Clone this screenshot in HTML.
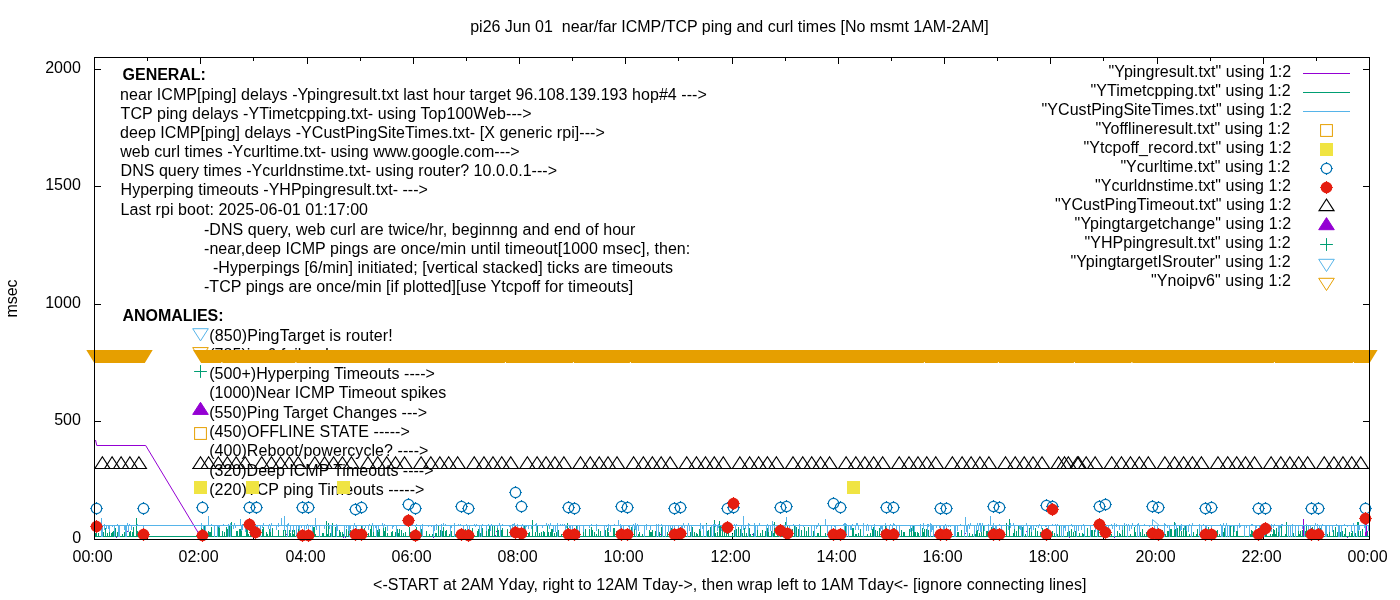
<!DOCTYPE html><html><head><meta charset="utf-8"><title>plot</title><style>html,body{margin:0;padding:0;background:#fff}svg{display:block;will-change:transform}text{font-family:"Liberation Sans",sans-serif;font-size:16px;fill:#000}</style></head><body>
<svg width="1400" height="600" viewBox="0 0 1400 600">
<rect width="1400" height="600" fill="#fff"/>
<path d="M94.5 539.5v-6.5M94.5 57.5v6.5M147.5 539.5v-3.5M147.5 57.5v3.5M200.5 539.5v-6.5M200.5 57.5v6.5M253.5 539.5v-3.5M253.5 57.5v3.5M307.5 539.5v-6.5M307.5 57.5v6.5M360.5 539.5v-3.5M360.5 57.5v3.5M413.5 539.5v-6.5M413.5 57.5v6.5M466.5 539.5v-3.5M466.5 57.5v3.5M519.5 539.5v-6.5M519.5 57.5v6.5M572.5 539.5v-3.5M572.5 57.5v3.5M625.5 539.5v-6.5M625.5 57.5v6.5M678.5 539.5v-3.5M678.5 57.5v3.5M732.5 539.5v-6.5M732.5 57.5v6.5M785.5 539.5v-3.5M785.5 57.5v3.5M838.5 539.5v-6.5M838.5 57.5v6.5M891.5 539.5v-3.5M891.5 57.5v3.5M944.5 539.5v-6.5M944.5 57.5v6.5M997.5 539.5v-3.5M997.5 57.5v3.5M1050.5 539.5v-6.5M1050.5 57.5v6.5M1103.5 539.5v-3.5M1103.5 57.5v3.5M1157.5 539.5v-6.5M1157.5 57.5v6.5M1210.5 539.5v-3.5M1210.5 57.5v3.5M1263.5 539.5v-6.5M1263.5 57.5v6.5M1316.5 539.5v-3.5M1316.5 57.5v3.5M1369.5 539.5v-6.5M1369.5 57.5v6.5M94.5 539.5h6.5M1369.5 539.5h-6.5M94.5 421.5h6.5M1369.5 421.5h-6.5M94.5 304.5h6.5M1369.5 304.5h-6.5M94.5 186.5h6.5M1369.5 186.5h-6.5M94.5 69.5h6.5M1369.5 69.5h-6.5" stroke="#000" stroke-width="1" fill="none"/>
<text x="470.20" y="32" textLength="518.61" lengthAdjust="spacing" xml:space="preserve">pi26 Jun 01  near/far ICMP/TCP ping and curl times [No msmt 1AM-2AM]</text>
<text x="373.00" y="589.6" textLength="713.45" lengthAdjust="spacing" xml:space="preserve">&lt;-START at 2AM Yday, right to 12AM Tday-&gt;, then wrap left to 1AM Tday&lt;- [ignore connecting lines]</text>
<text x="122.60" y="79.8" textLength="83.25" lengthAdjust="spacing" font-weight="bold" xml:space="preserve">GENERAL:</text>
<text x="120.00" y="99.6" textLength="586.84" lengthAdjust="spacing" xml:space="preserve">near ICMP[ping] delays -Ypingresult.txt last hour target 96.108.139.193 hop#4 ---&gt;</text>
<text x="120.60" y="118.6" textLength="410.95" lengthAdjust="spacing" xml:space="preserve">TCP ping delays -YTimetcpping.txt- using Top100Web---&gt;</text>
<text x="120.00" y="137.6" textLength="484.74" lengthAdjust="spacing" xml:space="preserve">deep ICMP[ping] delays -YCustPingSiteTimes.txt- [X generic rpi]---&gt;</text>
<text x="120.30" y="156.6" textLength="399.38" lengthAdjust="spacing" xml:space="preserve">web curl times -Ycurltime.txt- using www.google.com---&gt;</text>
<text x="120.60" y="175.8" textLength="436.38" lengthAdjust="spacing" xml:space="preserve">DNS query times -Ycurldnstime.txt- using router? 10.0.0.1---&gt;</text>
<text x="120.60" y="194.8" textLength="307.23" lengthAdjust="spacing" xml:space="preserve">Hyperping timeouts -YHPpingresult.txt- ---&gt;</text>
<text x="120.60" y="214.7" textLength="247.43" lengthAdjust="spacing" xml:space="preserve">Last rpi boot: 2025-06-01 01:17:00</text>
<text x="204.00" y="234.6" textLength="431.40" lengthAdjust="spacing" xml:space="preserve">-DNS query, web curl are twice/hr, beginnng and end of hour</text>
<text x="204.00" y="253.5" textLength="486.26" lengthAdjust="spacing" xml:space="preserve">-near,deep ICMP pings are once/min until timeout[1000 msec], then:</text>
<text x="212.90" y="272.5" textLength="460.01" lengthAdjust="spacing" xml:space="preserve">-Hyperpings [6/min] initiated; [vertical stacked] ticks are timeouts</text>
<text x="204.00" y="291.5" textLength="429.30" lengthAdjust="spacing" xml:space="preserve">-TCP pings are once/min [if plotted][use Ytcpoff for timeouts]</text>
<text x="122.60" y="321" textLength="100.92" lengthAdjust="spacing" font-weight="bold" xml:space="preserve">ANOMALIES:</text>
<text x="209.20" y="341.3" textLength="183.47" lengthAdjust="spacing" xml:space="preserve">(850)PingTarget is router!</text>
<text x="209.20" y="360.4" textLength="119.89" lengthAdjust="spacing" xml:space="preserve">(785)ipv6 failure!</text>
<text x="209.20" y="379" textLength="225.71" lengthAdjust="spacing" xml:space="preserve">(500+)Hyperping Timeouts ----&gt;</text>
<text x="209.20" y="398.3" textLength="236.95" lengthAdjust="spacing" xml:space="preserve">(1000)Near ICMP Timeout spikes</text>
<text x="209.20" y="417.8" textLength="217.88" lengthAdjust="spacing" xml:space="preserve">(550)Ping Target Changes ---&gt;</text>
<text x="209.20" y="437" textLength="200.60" lengthAdjust="spacing" xml:space="preserve">(450)OFFLINE STATE -----&gt;</text>
<text x="209.20" y="456.4" textLength="219.23" lengthAdjust="spacing" xml:space="preserve">(400)Reboot/powercycle? ----&gt;</text>
<text x="209.20" y="475.8" textLength="224.32" lengthAdjust="spacing" xml:space="preserve">(320)Deep ICMP Timeouts ----&gt;</text>
<text x="209.20" y="495.4" textLength="215.26" lengthAdjust="spacing" xml:space="preserve">(220)TCP ping Timeouts -----&gt;</text>
<text x="1108.60" y="77" textLength="182.66" lengthAdjust="spacing" xml:space="preserve">&quot;Ypingresult.txt&quot; using 1:2</text>
<text x="1090.60" y="96" textLength="200.02" lengthAdjust="spacing" xml:space="preserve">&quot;YTimetcpping.txt&quot; using 1:2</text>
<text x="1041.60" y="115" textLength="249.92" lengthAdjust="spacing" xml:space="preserve">&quot;YCustPingSiteTimes.txt&quot; using 1:2</text>
<text x="1095.40" y="134" textLength="194.83" lengthAdjust="spacing" xml:space="preserve">&quot;Yofflineresult.txt&quot; using 1:2</text>
<text x="1083.40" y="153" textLength="207.76" lengthAdjust="spacing" xml:space="preserve">&quot;Ytcpoff_record.txt&quot; using 1:2</text>
<text x="1120.40" y="172" textLength="169.78" lengthAdjust="spacing" xml:space="preserve">&quot;Ycurltime.txt&quot; using 1:2</text>
<text x="1095.00" y="191" textLength="195.87" lengthAdjust="spacing" xml:space="preserve">&quot;Ycurldnstime.txt&quot; using 1:2</text>
<text x="1055.00" y="210" textLength="236.19" lengthAdjust="spacing" xml:space="preserve">&quot;YCustPingTimeout.txt&quot; using 1:2</text>
<text x="1074.60" y="229" textLength="216.61" lengthAdjust="spacing" xml:space="preserve">&quot;Ypingtargetchange&quot; using 1:2</text>
<text x="1084.40" y="248" textLength="206.27" lengthAdjust="spacing" xml:space="preserve">&quot;YHPpingresult.txt&quot; using 1:2</text>
<text x="1070.60" y="267" textLength="220.02" lengthAdjust="spacing" xml:space="preserve">&quot;YpingtargetISrouter&quot; using 1:2</text>
<text x="1151.00" y="286" textLength="139.88" lengthAdjust="spacing" xml:space="preserve">&quot;Ynoipv6&quot; using 1:2</text>
<text x="72.20" y="542.8">0</text>
<text x="54.20" y="424.8">500</text>
<text x="45.20" y="307.8">1000</text>
<text x="45.20" y="189.8">1500</text>
<text x="45.20" y="72.8">2000</text>
<text x="92.6" y="562" text-anchor="middle">00:00</text>
<text x="198.6" y="562" text-anchor="middle">02:00</text>
<text x="305.6" y="562" text-anchor="middle">04:00</text>
<text x="411.6" y="562" text-anchor="middle">06:00</text>
<text x="517.6" y="562" text-anchor="middle">08:00</text>
<text x="623.6" y="562" text-anchor="middle">10:00</text>
<text x="730.6" y="562" text-anchor="middle">12:00</text>
<text x="836.6" y="562" text-anchor="middle">14:00</text>
<text x="942.6" y="562" text-anchor="middle">16:00</text>
<text x="1048.6" y="562" text-anchor="middle">18:00</text>
<text x="1155.6" y="562" text-anchor="middle">20:00</text>
<text x="1261.6" y="562" text-anchor="middle">22:00</text>
<text x="1367.6" y="562" text-anchor="middle">00:00</text>
<text transform="translate(17,298.5) rotate(-90)" text-anchor="middle">msec</text>
<path d="M95.5 440L96.8 445.5L145.7 445.5L200.8 537" stroke="#9400D3" stroke-width="1" fill="none" stroke-linejoin="round"/>
<path d="M116 537.5h1M127 531.5h1M144 533.5h1M210 535.5h1M286 534.5h1M305 537.5h1M343 537.5h1M345 537.5h1M433 537.5h1M460 531.5h1M495 535.5h1M496 531.5h1M521 533.5h1M523 534.5h1M567 533.5h1M579 537.5h1M660 534.5h1M692 533.5h1M752 534.5h1M836 537.5h1M840 535.5h1M934 535.5h1M965 533.5h1M989 535.5h1M1026 531.5h1M1069 537.5h1M1101 533.5h1M1114 537.5h1M1183 533.5h1M1185 533.5h1M1193 534.5h1M1263 535.5h1M1266 535.5h1M1273 534.5h1M1300 535.5h1M1305 531.5h1M1347 537.5h1M1303.5 537V519M1365.5 537V531M1366.5 537V523.5M1367.5 537V531" stroke="#9400D3" stroke-width="1" fill="none"/>
<path d="M94.5 536.5H1369M95.5 537V533M96.5 537V533M98.5 537V533M101.5 537V533M102.5 537V529M103.5 537V532M105.5 537V528M107.5 537V533M109.5 537V528M111.5 537V533M112.5 537V532M113.5 537V531M115.5 537V528M117.5 537V532M118.5 537V531M119.5 537V532M122.5 537V534M124.5 537V532M126.5 537V534M129.5 537V532M130.5 537V531M132.5 537V532M133.5 537V527M137.5 537V531M139.5 537V532M144.5 537V529M201.5 537V526M203.5 537V534M204.5 537V526M205.5 537V530M208.5 537V531M209.5 537V532M210.5 537V532M211.5 537V527M217.5 537V534M218.5 537V527M219.5 537V527M222.5 537V531M224.5 537V532M226.5 537V527M227.5 537V529M229.5 537V526M230.5 537V533M231.5 537V522M236.5 537V531M237.5 537V531M239.5 537V529M240.5 537V529M241.5 537V527M246.5 537V528M247.5 537V528M248.5 537V534M250.5 537V527M251.5 537V530M257.5 537V534M260.5 537V526M262.5 537V529M263.5 537V527M266.5 537V532M267.5 537V534M269.5 537V529M270.5 537V532M272.5 537V528M278.5 537V530M283.5 537V530M285.5 537V530M289.5 537V530M290.5 537V533M292.5 537V530M293.5 537V534M294.5 537V530M296.5 537V532M298.5 537V529M299.5 537V527M301.5 537V534M304.5 537V532M305.5 537V531M306.5 537V534M307.5 537V532M308.5 537V530M310.5 537V531M311.5 537V533M313.5 537V527M314.5 537V527M315.5 537V534M319.5 537V530M322.5 537V533M323.5 537V533M326.5 537V521M327.5 537V534M328.5 537V523M330.5 537V533M332.5 537V523M335.5 537V527M339.5 537V530M340.5 537V532M342.5 537V532M343.5 537V534M346.5 537V529M348.5 537V528M349.5 537V531M350.5 537V530M354.5 537V532M355.5 537V534M356.5 537V529M358.5 537V529M359.5 537V532M361.5 537V526M363.5 537V534M364.5 537V528M366.5 537V533M368.5 537V533M370.5 537V529M371.5 537V526M373.5 537V528M377.5 537V530M378.5 537V528M379.5 537V529M383.5 537V528M384.5 537V531M385.5 537V527M387.5 537V533M391.5 537V532M392.5 537V531M395.5 537V532M397.5 537V529M398.5 537V533M399.5 537V529M401.5 537V530M403.5 537V533M405.5 537V532M409.5 537V527M410.5 537V532M411.5 537V534M414.5 537V534M416.5 537V527M421.5 537V529M422.5 537V527M426.5 537V531M429.5 537V534M432.5 537V534M433.5 537V530M435.5 537V533M436.5 537V533M438.5 537V526M440.5 537V530M442.5 537V531M443.5 537V527M445.5 537V531M446.5 537V530M449.5 537V534M451.5 537V531M454.5 537V530M455.5 537V534M458.5 537V531M460.5 537V532M461.5 537V532M462.5 537V530M465.5 537V529M470.5 537V530M471.5 537V532M472.5 537V528M477.5 537V531M478.5 537V529M480.5 537V533M482.5 537V528M486.5 537V530M488.5 537V529M489.5 537V526M492.5 537V526M494.5 537V525M497.5 537V528M498.5 537V530M501.5 537V530M502.5 537V528M507.5 537V529M510.5 537V534M511.5 537V534M513.5 537V530M516.5 537V530M518.5 537V530M520.5 537V529M523.5 537V526M524.5 537V526M528.5 537V533M529.5 537V532M532.5 537V520M535.5 537V532M537.5 537V526M539.5 537V533M541.5 537V532M543.5 537V531M544.5 537V532M547.5 537V526M548.5 537V532M550.5 537V532M551.5 537V529M552.5 537V529M554.5 537V533M556.5 537V532M557.5 537V528M558.5 537V530M561.5 537V534M564.5 537V533M567.5 537V523M568.5 537V534M571.5 537V534M574.5 537V530M575.5 537V532M576.5 537V526M577.5 537V529M579.5 537V528M583.5 537V526M585.5 537V529M589.5 537V529M591.5 537V527M592.5 537V530M594.5 537V532M596.5 537V534M598.5 537V529M600.5 537V531M605.5 537V530M607.5 537V528M608.5 537V532M613.5 537V528M614.5 537V528M616.5 537V531M619.5 537V534M621.5 537V528M622.5 537V529M623.5 537V534M624.5 537V534M631.5 537V527M632.5 537V531M634.5 537V527M636.5 537V527M638.5 537V534M639.5 537V532M642.5 537V534M649.5 537V530M650.5 537V532M651.5 537V532M652.5 537V530M655.5 537V531M659.5 537V532M661.5 537V527M665.5 537V534M667.5 537V532M669.5 537V533M671.5 537V528M674.5 537V529M675.5 537V531M677.5 537V533M679.5 537V529M681.5 537V527M683.5 537V531M685.5 537V532M687.5 537V530M690.5 537V532M692.5 537V527M694.5 537V532M696.5 537V533M697.5 537V534M699.5 537V529M700.5 537V531M706.5 537V523M707.5 537V531M708.5 537V530M710.5 537V527M713.5 537V533M715.5 537V533M717.5 537V532M719.5 537V521M720.5 537V526M722.5 537V529M724.5 537V528M726.5 537V531M728.5 537V526M732.5 537V534M734.5 537V530M736.5 537V529M738.5 537V527M740.5 537V529M742.5 537V533M744.5 537V528M746.5 537V533M749.5 537V528M750.5 537V534M753.5 537V533M754.5 537V534M755.5 537V530M757.5 537V527M760.5 537V533M762.5 537V530M765.5 537V531M767.5 537V528M768.5 537V530M771.5 537V531M773.5 537V533M774.5 537V522M777.5 537V531M780.5 537V528M781.5 537V531M782.5 537V530M785.5 537V522M787.5 537V525M792.5 537V529M794.5 537V526M795.5 537V528M796.5 537V527M798.5 537V529M801.5 537V530M804.5 537V527M806.5 537V531M808.5 537V527M813.5 537V531M814.5 537V531M817.5 537V533M818.5 537V533M820.5 537V526M825.5 537V533M827.5 537V533M835.5 537V528M837.5 537V534M842.5 537V533M843.5 537V532M845.5 537V526M852.5 537V528M853.5 537V528M855.5 537V534M856.5 537V534M858.5 537V533M860.5 537V529M863.5 537V526M867.5 537V534M870.5 537V533M872.5 537V529M873.5 537V527M875.5 537V530M877.5 537V531M879.5 537V528M881.5 537V531M883.5 537V534M885.5 537V526M887.5 537V531M894.5 537V528M896.5 537V528M897.5 537V534M899.5 537V526M901.5 537V530M903.5 537V532M904.5 537V532M909.5 537V529M911.5 537V528M913.5 537V526M914.5 537V526M915.5 537V532M917.5 537V532M918.5 537V533M920.5 537V531M922.5 537V528M923.5 537V532M924.5 537V529M926.5 537V529M928.5 537V530M933.5 537V527M935.5 537V534M936.5 537V534M939.5 537V530M942.5 537V532M943.5 537V529M945.5 537V533M950.5 537V529M954.5 537V532M955.5 537V531M957.5 537V532M958.5 537V532M961.5 537V530M964.5 537V532M967.5 537V532M969.5 537V533M972.5 537V534M975.5 537V534M976.5 537V527M977.5 537V530M979.5 537V533M981.5 537V526M983.5 537V526M986.5 537V531M987.5 537V531M989.5 537V534M991.5 537V527M992.5 537V534M994.5 537V528M995.5 537V528M997.5 537V529M1001.5 537V532M1003.5 537V533M1006.5 537V523M1009.5 537V534M1013.5 537V533M1014.5 537V528M1016.5 537V531M1018.5 537V526M1022.5 537V527M1025.5 537V534M1027.5 537V534M1029.5 537V528M1031.5 537V525M1035.5 537V528M1037.5 537V531M1040.5 537V532M1042.5 537V528M1045.5 537V534M1047.5 537V528M1048.5 537V528M1050.5 537V532M1052.5 537V531M1054.5 537V533M1057.5 537V534M1059.5 537V526M1067.5 537V532M1069.5 537V531M1071.5 537V529M1073.5 537V532M1075.5 537V531M1076.5 537V531M1079.5 537V533M1082.5 537V533M1083.5 537V534M1087.5 537V528M1090.5 537V526M1091.5 537V530M1092.5 537V530M1094.5 537V530M1097.5 537V528M1098.5 537V521M1101.5 537V526M1103.5 537V534M1104.5 537V532M1106.5 537V533M1107.5 537V533M1109.5 537V533M1111.5 537V534M1114.5 537V530M1117.5 537V531M1119.5 537V533M1120.5 537V534M1122.5 537V529M1124.5 537V525M1127.5 537V531M1130.5 537V534M1134.5 537V527M1135.5 537V532M1137.5 537V533M1140.5 537V532M1142.5 537V529M1144.5 537V534M1146.5 537V532M1149.5 537V529M1150.5 537V531M1152.5 537V534M1154.5 537V529M1157.5 537V530M1159.5 537V532M1160.5 537V529M1162.5 537V530M1165.5 537V534M1167.5 537V531M1168.5 537V531M1170.5 537V529M1171.5 537V529M1174.5 537V522M1175.5 537V529M1177.5 537V528M1179.5 537V526M1181.5 537V531M1183.5 537V528M1185.5 537V526M1186.5 537V526M1189.5 537V534M1191.5 537V531M1193.5 537V532M1196.5 537V534M1197.5 537V529M1199.5 537V526M1201.5 537V533M1204.5 537V532M1208.5 537V527M1214.5 537V532M1216.5 537V531M1217.5 537V530M1219.5 537V534M1221.5 537V529M1223.5 537V532M1224.5 537V528M1227.5 537V533M1229.5 537V525M1230.5 537V526M1233.5 537V526M1236.5 537V531M1237.5 537V528M1249.5 537V533M1250.5 537V534M1251.5 537V530M1252.5 537V531M1255.5 537V530M1257.5 537V534M1259.5 537V531M1260.5 537V532M1261.5 537V532M1263.5 537V528M1265.5 537V526M1266.5 537V530M1270.5 537V534M1272.5 537V534M1273.5 537V529M1274.5 537V530M1275.5 537V534M1276.5 537V528M1278.5 537V530M1279.5 537V534M1281.5 537V526M1285.5 537V534M1286.5 537V522M1288.5 537V529M1290.5 537V527M1293.5 537V533M1295.5 537V533M1298.5 537V531M1299.5 537V534M1300.5 537V531M1302.5 537V530M1305.5 537V531M1306.5 537V526M1308.5 537V528M1310.5 537V533M1312.5 537V527M1313.5 537V534M1314.5 537V525M1316.5 537V534M1318.5 537V531M1319.5 537V531M1320.5 537V528M1321.5 537V528M1322.5 537V534M1325.5 537V534M1327.5 537V534M1329.5 537V531M1333.5 537V530M1335.5 537V527M1337.5 537V532M1338.5 537V531M1340.5 537V532M1342.5 537V531M1344.5 537V534M1345.5 537V528M1349.5 537V532M1351.5 537V533M1352.5 537V531M1354.5 537V531M1355.5 537V533M1357.5 537V522M1358.5 537V522M1360.5 537V531M1362.5 537V529M1367.5 537V532" stroke="#009E73" stroke-width="1" fill="none"/>
<path d="M136.5 537V518M1009.5 537V519M714.5 537V520" stroke="#009E73" stroke-width="1" fill="none"/>
<path d="M94.5 525.5H1369M95.5 525V528M99.5 525V529M101.5 525V537M101.5 526V518M102.5 525V537M104.5 525V530M104.5 526V524M106.5 525V529M108.5 525V529M109.5 525V532M112.5 525V527M114.5 525V537M117.5 526V524M118.5 525V537M119.5 525V537M124.5 525V530M125.5 525V537M126.5 525V537M127.5 526V523M128.5 525V532M129.5 526V524M131.5 525V530M137.5 526V524M143.5 525V537M201.5 525V528M201.5 526V523M203.5 525V531M205.5 525V537M208.5 526V516M211.5 526V524M214.5 525V537M217.5 525V537M218.5 525V527M219.5 525V528M223.5 526V524M228.5 525V537M228.5 526V524M230.5 525V537M230.5 526V523M233.5 525V529M234.5 526V523M235.5 525V528M240.5 526V519M241.5 525V531M242.5 525V530M242.5 526V524M245.5 525V532M247.5 525V530M249.5 526V518M251.5 525V531M252.5 525V531M254.5 526V524M256.5 525V537M257.5 525V537M260.5 525V537M262.5 525V528M263.5 526V523M268.5 525V529M269.5 526V524M270.5 525V532M271.5 526V523M276.5 525V530M278.5 525V527M278.5 526V523M281.5 526V518M284.5 525V531M284.5 526V523M286.5 525V527M287.5 525V537M287.5 526V524M288.5 526V523M290.5 525V532M293.5 525V532M296.5 525V537M298.5 525V529M299.5 525V537M301.5 525V528M304.5 525V537M306.5 525V529M307.5 526V524M308.5 525V537M310.5 525V527M312.5 525V537M315.5 525V527M315.5 526V518M316.5 525V530M319.5 525V537M324.5 525V529M329.5 525V529M331.5 525V537M336.5 525V537M336.5 526V524M337.5 525V531M344.5 525V537M346.5 525V528M348.5 525V531M349.5 525V537M350.5 525V529M353.5 525V531M354.5 526V523M355.5 525V527M356.5 525V537M362.5 525V529M365.5 525V528M368.5 525V530M369.5 526V524M372.5 526V523M373.5 525V532M375.5 525V528M376.5 525V537M378.5 525V532M382.5 526V523M383.5 525V528M384.5 526V524M387.5 525V531M392.5 525V529M393.5 525V527M396.5 525V537M405.5 526V524M412.5 526V524M415.5 525V527M416.5 526V524M420.5 525V537M422.5 525V537M422.5 526V524M428.5 525V527M431.5 525V527M433.5 525V537M434.5 525V531M436.5 525V530M436.5 526V524M441.5 525V537M441.5 526V524M443.5 526V523M445.5 526V524M450.5 525V537M451.5 525V528M454.5 525V537M454.5 526V523M458.5 526V524M460.5 526V524M463.5 525V532M466.5 526V524M467.5 525V532M469.5 525V531M474.5 526V524M475.5 525V527M476.5 526V524M479.5 525V537M481.5 525V537M482.5 526V524M486.5 525V531M488.5 526V524M490.5 525V531M491.5 526V524M497.5 525V528M499.5 526V523M500.5 525V537M502.5 526V524M509.5 525V527M510.5 525V537M512.5 525V530M512.5 526V524M513.5 526V524M514.5 525V537M514.5 526V523M517.5 525V527M517.5 526V524M521.5 525V528M522.5 526V524M523.5 525V537M525.5 525V537M526.5 525V527M528.5 525V529M531.5 525V529M535.5 526V524M536.5 525V532M536.5 526V523M542.5 525V528M546.5 526V523M548.5 526V524M549.5 525V529M550.5 526V523M553.5 525V532M555.5 525V532M557.5 525V537M557.5 526V523M560.5 526V524M562.5 526V524M564.5 526V524M565.5 525V537M566.5 525V528M569.5 525V528M570.5 525V529M572.5 525V537M577.5 525V537M579.5 525V531M583.5 525V532M589.5 525V528M591.5 526V524M596.5 525V531M596.5 526V524M604.5 525V537M606.5 525V527M608.5 525V531M608.5 526V524M610.5 525V532M614.5 526V524M618.5 526V520M620.5 525V537M620.5 526V524M621.5 525V531M623.5 525V537M628.5 525V527M629.5 525V529M632.5 525V537M633.5 526V524M634.5 525V529M635.5 525V530M635.5 526V523M636.5 525V537M637.5 526V524M638.5 525V531M644.5 525V537M646.5 525V530M646.5 526V524M650.5 525V530M656.5 525V537M656.5 526V524M658.5 525V537M658.5 526V524M661.5 526V524M662.5 525V537M665.5 525V537M668.5 525V532M670.5 525V537M672.5 525V532M674.5 525V532M678.5 525V531M681.5 525V529M682.5 525V537M683.5 526V523M684.5 525V528M687.5 525V537M688.5 526V523M689.5 525V531M691.5 525V537M700.5 525V531M700.5 526V523M702.5 525V529M703.5 525V537M706.5 525V537M706.5 526V524M711.5 525V537M713.5 525V537M713.5 526V524M714.5 526V524M715.5 525V527M715.5 526V524M717.5 525V531M718.5 525V528M718.5 526V524M721.5 525V531M723.5 525V527M723.5 526V524M729.5 525V529M731.5 525V531M734.5 526V524M735.5 525V537M736.5 526V524M741.5 525V537M743.5 525V530M743.5 526V516M745.5 525V529M748.5 525V537M748.5 526V523M749.5 526V524M754.5 525V537M754.5 526V523M755.5 525V537M757.5 525V530M759.5 526V523M766.5 525V537M767.5 526V524M768.5 525V532M770.5 525V531M772.5 525V537M772.5 526V521M773.5 526V524M774.5 525V528M777.5 525V531M779.5 525V537M785.5 525V531M786.5 526V517M789.5 525V528M793.5 526V524M795.5 525V537M799.5 525V537M799.5 526V524M803.5 525V527M811.5 525V537M814.5 525V537M816.5 525V529M817.5 525V527M818.5 526V523M825.5 526V519M827.5 525V537M831.5 525V530M834.5 525V527M835.5 525V537M843.5 526V524M844.5 525V532M844.5 526V523M845.5 526V523M846.5 525V537M846.5 526V524M848.5 525V537M850.5 525V530M851.5 525V530M852.5 526V524M855.5 525V530M856.5 526V523M857.5 526V523M858.5 525V530M863.5 525V537M863.5 526V523M866.5 525V531M867.5 526V524M868.5 525V531M871.5 525V530M874.5 525V537M874.5 526V524M880.5 525V531M881.5 525V529M882.5 525V537M885.5 526V523M886.5 525V530M889.5 525V537M890.5 526V524M892.5 525V537M893.5 526V523M894.5 526V524M896.5 525V530M899.5 525V537M910.5 525V532M912.5 525V531M914.5 525V532M920.5 525V537M920.5 526V524M923.5 525V529M923.5 526V523M927.5 525V537M927.5 526V524M928.5 525V527M928.5 526V524M930.5 525V537M930.5 526V523M931.5 525V532M931.5 526V524M932.5 525V530M933.5 525V537M936.5 525V528M939.5 525V528M940.5 525V537M943.5 525V532M944.5 525V531M945.5 526V524M946.5 525V529M948.5 525V527M950.5 525V527M954.5 525V537M955.5 525V537M957.5 525V531M960.5 526V524M964.5 525V537M965.5 526V517M966.5 525V532M967.5 525V537M968.5 526V524M969.5 525V529M970.5 526V523M974.5 525V537M976.5 525V531M977.5 526V523M978.5 525V531M979.5 526V523M980.5 525V532M980.5 526V523M981.5 525V532M982.5 526V523M984.5 525V531M988.5 525V537M988.5 526V524M990.5 526V516M992.5 525V537M993.5 525V537M993.5 526V523M995.5 525V537M996.5 525V531M999.5 526V524M1001.5 525V530M1008.5 525V530M1010.5 525V528M1010.5 526V523M1013.5 526V523M1014.5 525V529M1019.5 525V529M1020.5 525V530M1021.5 525V537M1023.5 525V537M1026.5 526V523M1027.5 525V537M1030.5 525V529M1031.5 525V532M1033.5 525V530M1036.5 525V527M1038.5 525V528M1039.5 526V524M1041.5 525V529M1045.5 525V527M1046.5 525V527M1048.5 525V537M1052.5 526V524M1055.5 526V524M1056.5 525V537M1057.5 526V524M1061.5 525V537M1063.5 525V537M1064.5 525V528M1065.5 525V531M1068.5 525V537M1071.5 526V524M1072.5 525V527M1074.5 525V532M1076.5 525V537M1078.5 525V531M1081.5 525V530M1083.5 526V524M1084.5 525V537M1090.5 525V537M1095.5 525V532M1097.5 525V537M1103.5 525V529M1104.5 525V529M1106.5 525V527M1108.5 525V537M1111.5 526V524M1112.5 525V529M1114.5 525V537M1114.5 526V523M1116.5 525V527M1116.5 526V524M1119.5 525V530M1122.5 525V530M1124.5 526V523M1126.5 526V524M1127.5 525V537M1128.5 526V524M1129.5 525V531M1131.5 525V529M1132.5 526V523M1135.5 525V527M1137.5 525V537M1137.5 526V524M1138.5 526V523M1139.5 525V537M1144.5 526V524M1149.5 525V527M1154.5 525V532M1157.5 525V537M1164.5 525V537M1164.5 526V523M1165.5 526V524M1167.5 525V528M1169.5 525V537M1174.5 525V530M1175.5 526V523M1176.5 525V537M1180.5 525V531M1181.5 525V530M1181.5 526V524M1184.5 525V530M1186.5 525V531M1188.5 525V532M1189.5 526V524M1191.5 525V537M1192.5 526V523M1199.5 525V537M1199.5 526V524M1201.5 525V537M1203.5 526V524M1205.5 525V537M1206.5 525V532M1211.5 525V528M1220.5 526V524M1221.5 525V537M1222.5 525V537M1223.5 526V523M1225.5 525V537M1226.5 526V523M1227.5 525V537M1229.5 525V537M1231.5 525V527M1234.5 525V532M1237.5 525V531M1239.5 525V528M1239.5 526V523M1240.5 525V527M1244.5 525V537M1246.5 525V528M1249.5 525V537M1251.5 526V524M1252.5 526V524M1255.5 525V537M1256.5 525V528M1259.5 525V531M1262.5 526V524M1263.5 526V523M1264.5 525V537M1265.5 526V524M1266.5 526V523M1268.5 525V529M1271.5 525V532M1271.5 526V524M1273.5 525V528M1274.5 526V524M1278.5 525V532M1279.5 525V537M1280.5 525V528M1281.5 526V524M1282.5 526V524M1288.5 525V537M1290.5 525V537M1292.5 525V537M1292.5 526V524M1295.5 525V537M1298.5 525V531M1302.5 525V529M1304.5 525V537M1306.5 526V524M1308.5 525V537M1310.5 525V530M1314.5 525V537M1315.5 526V523M1317.5 525V530M1317.5 526V524M1319.5 525V530M1321.5 525V537M1322.5 526V524M1325.5 525V537M1326.5 525V537M1329.5 525V532M1332.5 525V532M1336.5 526V524M1338.5 525V537M1339.5 525V537M1341.5 525V537M1344.5 526V524M1347.5 525V527M1351.5 525V532M1353.5 526V523M1354.5 525V537M1357.5 525V537M1358.5 525V531M1359.5 525V530M1364.5 525V528M1364.5 526V523M1365.5 525V532M1365.5 526V523M1368.5 525V531" stroke="#56B4E9" stroke-width="1" fill="none"/>
<path d="M284.5 526V516M1152.5 526V519.5L1160 526" stroke="#56B4E9" stroke-width="1" fill="none"/>
<rect x="194.60" y="427.60" width="11.8" height="11.8" fill="none" stroke="#E69F00" stroke-width="1"/>
<rect x="194.50" y="481.50" width="12" height="12" fill="#F0E442" stroke="#F0E442" stroke-width="1"/>
<rect x="246.50" y="481.50" width="12" height="12" fill="#F0E442" stroke="#F0E442" stroke-width="1"/>
<rect x="337.50" y="481.50" width="12" height="12" fill="#F0E442" stroke="#F0E442" stroke-width="1"/>
<rect x="847.50" y="481.50" width="12" height="12" fill="#F0E442" stroke="#F0E442" stroke-width="1"/>
<circle cx="96.5" cy="508.5" r="5.2" fill="none" stroke="#0072B2" stroke-width="1.2"/>
<path d="M90.1 508.5h1.2M101.7 508.5h1.2M96.5 502.1v1.2M96.5 513.7v1.2" stroke="#0072B2" stroke-width="1.2" fill="none"/>
<circle cx="143.5" cy="508.5" r="5.2" fill="none" stroke="#0072B2" stroke-width="1.2"/>
<path d="M137.1 508.5h1.2M148.7 508.5h1.2M143.5 502.1v1.2M143.5 513.7v1.2" stroke="#0072B2" stroke-width="1.2" fill="none"/>
<circle cx="202.5" cy="507.5" r="5.2" fill="none" stroke="#0072B2" stroke-width="1.2"/>
<path d="M196.1 507.5h1.2M207.7 507.5h1.2M202.5 501.1v1.2M202.5 512.7v1.2" stroke="#0072B2" stroke-width="1.2" fill="none"/>
<circle cx="249.5" cy="507.5" r="5.2" fill="none" stroke="#0072B2" stroke-width="1.2"/>
<path d="M243.1 507.5h1.2M254.7 507.5h1.2M249.5 501.1v1.2M249.5 512.7v1.2" stroke="#0072B2" stroke-width="1.2" fill="none"/>
<circle cx="256.5" cy="507.5" r="5.2" fill="none" stroke="#0072B2" stroke-width="1.2"/>
<path d="M250.1 507.5h1.2M261.7 507.5h1.2M256.5 501.1v1.2M256.5 512.7v1.2" stroke="#0072B2" stroke-width="1.2" fill="none"/>
<circle cx="302.5" cy="507.5" r="5.2" fill="none" stroke="#0072B2" stroke-width="1.2"/>
<path d="M296.1 507.5h1.2M307.7 507.5h1.2M302.5 501.1v1.2M302.5 512.7v1.2" stroke="#0072B2" stroke-width="1.2" fill="none"/>
<circle cx="308.5" cy="507.5" r="5.2" fill="none" stroke="#0072B2" stroke-width="1.2"/>
<path d="M302.1 507.5h1.2M313.7 507.5h1.2M308.5 501.1v1.2M308.5 512.7v1.2" stroke="#0072B2" stroke-width="1.2" fill="none"/>
<circle cx="355.5" cy="509.5" r="5.2" fill="none" stroke="#0072B2" stroke-width="1.2"/>
<path d="M349.1 509.5h1.2M360.7 509.5h1.2M355.5 503.1v1.2M355.5 514.7v1.2" stroke="#0072B2" stroke-width="1.2" fill="none"/>
<circle cx="361.5" cy="507.5" r="5.2" fill="none" stroke="#0072B2" stroke-width="1.2"/>
<path d="M355.1 507.5h1.2M366.7 507.5h1.2M361.5 501.1v1.2M361.5 512.7v1.2" stroke="#0072B2" stroke-width="1.2" fill="none"/>
<circle cx="408.5" cy="504.5" r="5.2" fill="none" stroke="#0072B2" stroke-width="1.2"/>
<path d="M402.1 504.5h1.2M413.7 504.5h1.2M408.5 498.1v1.2M408.5 509.7v1.2" stroke="#0072B2" stroke-width="1.2" fill="none"/>
<circle cx="415.5" cy="508.5" r="5.2" fill="none" stroke="#0072B2" stroke-width="1.2"/>
<path d="M409.1 508.5h1.2M420.7 508.5h1.2M415.5 502.1v1.2M415.5 513.7v1.2" stroke="#0072B2" stroke-width="1.2" fill="none"/>
<circle cx="461.5" cy="506.5" r="5.2" fill="none" stroke="#0072B2" stroke-width="1.2"/>
<path d="M455.1 506.5h1.2M466.7 506.5h1.2M461.5 500.1v1.2M461.5 511.7v1.2" stroke="#0072B2" stroke-width="1.2" fill="none"/>
<circle cx="468.5" cy="508.5" r="5.2" fill="none" stroke="#0072B2" stroke-width="1.2"/>
<path d="M462.1 508.5h1.2M473.7 508.5h1.2M468.5 502.1v1.2M468.5 513.7v1.2" stroke="#0072B2" stroke-width="1.2" fill="none"/>
<circle cx="515.5" cy="492.5" r="5.2" fill="none" stroke="#0072B2" stroke-width="1.2"/>
<path d="M509.1 492.5h1.2M520.7 492.5h1.2M515.5 486.1v1.2M515.5 497.7v1.2" stroke="#0072B2" stroke-width="1.2" fill="none"/>
<circle cx="521.5" cy="506.5" r="5.2" fill="none" stroke="#0072B2" stroke-width="1.2"/>
<path d="M515.1 506.5h1.2M526.7 506.5h1.2M521.5 500.1v1.2M521.5 511.7v1.2" stroke="#0072B2" stroke-width="1.2" fill="none"/>
<circle cx="568.5" cy="507.5" r="5.2" fill="none" stroke="#0072B2" stroke-width="1.2"/>
<path d="M562.1 507.5h1.2M573.7 507.5h1.2M568.5 501.1v1.2M568.5 512.7v1.2" stroke="#0072B2" stroke-width="1.2" fill="none"/>
<circle cx="574.5" cy="508.5" r="5.2" fill="none" stroke="#0072B2" stroke-width="1.2"/>
<path d="M568.1 508.5h1.2M579.7 508.5h1.2M574.5 502.1v1.2M574.5 513.7v1.2" stroke="#0072B2" stroke-width="1.2" fill="none"/>
<circle cx="621.5" cy="506.5" r="5.2" fill="none" stroke="#0072B2" stroke-width="1.2"/>
<path d="M615.1 506.5h1.2M626.7 506.5h1.2M621.5 500.1v1.2M621.5 511.7v1.2" stroke="#0072B2" stroke-width="1.2" fill="none"/>
<circle cx="627.5" cy="507.5" r="5.2" fill="none" stroke="#0072B2" stroke-width="1.2"/>
<path d="M621.1 507.5h1.2M632.7 507.5h1.2M627.5 501.1v1.2M627.5 512.7v1.2" stroke="#0072B2" stroke-width="1.2" fill="none"/>
<circle cx="674.5" cy="508.5" r="5.2" fill="none" stroke="#0072B2" stroke-width="1.2"/>
<path d="M668.1 508.5h1.2M679.7 508.5h1.2M674.5 502.1v1.2M674.5 513.7v1.2" stroke="#0072B2" stroke-width="1.2" fill="none"/>
<circle cx="680.5" cy="507.5" r="5.2" fill="none" stroke="#0072B2" stroke-width="1.2"/>
<path d="M674.1 507.5h1.2M685.7 507.5h1.2M680.5 501.1v1.2M680.5 512.7v1.2" stroke="#0072B2" stroke-width="1.2" fill="none"/>
<circle cx="727.5" cy="508.5" r="5.2" fill="none" stroke="#0072B2" stroke-width="1.2"/>
<path d="M721.1 508.5h1.2M732.7 508.5h1.2M727.5 502.1v1.2M727.5 513.7v1.2" stroke="#0072B2" stroke-width="1.2" fill="none"/>
<circle cx="733.5" cy="507.5" r="5.2" fill="none" stroke="#0072B2" stroke-width="1.2"/>
<path d="M727.1 507.5h1.2M738.7 507.5h1.2M733.5 501.1v1.2M733.5 512.7v1.2" stroke="#0072B2" stroke-width="1.2" fill="none"/>
<circle cx="780.5" cy="507.5" r="5.2" fill="none" stroke="#0072B2" stroke-width="1.2"/>
<path d="M774.1 507.5h1.2M785.7 507.5h1.2M780.5 501.1v1.2M780.5 512.7v1.2" stroke="#0072B2" stroke-width="1.2" fill="none"/>
<circle cx="786.5" cy="506.5" r="5.2" fill="none" stroke="#0072B2" stroke-width="1.2"/>
<path d="M780.1 506.5h1.2M791.7 506.5h1.2M786.5 500.1v1.2M786.5 511.7v1.2" stroke="#0072B2" stroke-width="1.2" fill="none"/>
<circle cx="833.5" cy="503.5" r="5.2" fill="none" stroke="#0072B2" stroke-width="1.2"/>
<path d="M827.1 503.5h1.2M838.7 503.5h1.2M833.5 497.1v1.2M833.5 508.7v1.2" stroke="#0072B2" stroke-width="1.2" fill="none"/>
<circle cx="840.5" cy="507.5" r="5.2" fill="none" stroke="#0072B2" stroke-width="1.2"/>
<path d="M834.1 507.5h1.2M845.7 507.5h1.2M840.5 501.1v1.2M840.5 512.7v1.2" stroke="#0072B2" stroke-width="1.2" fill="none"/>
<circle cx="886.5" cy="507.5" r="5.2" fill="none" stroke="#0072B2" stroke-width="1.2"/>
<path d="M880.1 507.5h1.2M891.7 507.5h1.2M886.5 501.1v1.2M886.5 512.7v1.2" stroke="#0072B2" stroke-width="1.2" fill="none"/>
<circle cx="893.5" cy="507.5" r="5.2" fill="none" stroke="#0072B2" stroke-width="1.2"/>
<path d="M887.1 507.5h1.2M898.7 507.5h1.2M893.5 501.1v1.2M893.5 512.7v1.2" stroke="#0072B2" stroke-width="1.2" fill="none"/>
<circle cx="940.5" cy="508.5" r="5.2" fill="none" stroke="#0072B2" stroke-width="1.2"/>
<path d="M934.1 508.5h1.2M945.7 508.5h1.2M940.5 502.1v1.2M940.5 513.7v1.2" stroke="#0072B2" stroke-width="1.2" fill="none"/>
<circle cx="946.5" cy="508.5" r="5.2" fill="none" stroke="#0072B2" stroke-width="1.2"/>
<path d="M940.1 508.5h1.2M951.7 508.5h1.2M946.5 502.1v1.2M946.5 513.7v1.2" stroke="#0072B2" stroke-width="1.2" fill="none"/>
<circle cx="993.5" cy="506.5" r="5.2" fill="none" stroke="#0072B2" stroke-width="1.2"/>
<path d="M987.1 506.5h1.2M998.7 506.5h1.2M993.5 500.1v1.2M993.5 511.7v1.2" stroke="#0072B2" stroke-width="1.2" fill="none"/>
<circle cx="999.5" cy="507.5" r="5.2" fill="none" stroke="#0072B2" stroke-width="1.2"/>
<path d="M993.1 507.5h1.2M1004.7 507.5h1.2M999.5 501.1v1.2M999.5 512.7v1.2" stroke="#0072B2" stroke-width="1.2" fill="none"/>
<circle cx="1046.5" cy="505.5" r="5.2" fill="none" stroke="#0072B2" stroke-width="1.2"/>
<path d="M1040.1 505.5h1.2M1051.7 505.5h1.2M1046.5 499.1v1.2M1046.5 510.7v1.2" stroke="#0072B2" stroke-width="1.2" fill="none"/>
<circle cx="1052.5" cy="506.5" r="5.2" fill="none" stroke="#0072B2" stroke-width="1.2"/>
<path d="M1046.1 506.5h1.2M1057.7 506.5h1.2M1052.5 500.1v1.2M1052.5 511.7v1.2" stroke="#0072B2" stroke-width="1.2" fill="none"/>
<circle cx="1099.5" cy="506.5" r="5.2" fill="none" stroke="#0072B2" stroke-width="1.2"/>
<path d="M1093.1 506.5h1.2M1104.7 506.5h1.2M1099.5 500.1v1.2M1099.5 511.7v1.2" stroke="#0072B2" stroke-width="1.2" fill="none"/>
<circle cx="1105.5" cy="504.5" r="5.2" fill="none" stroke="#0072B2" stroke-width="1.2"/>
<path d="M1099.1 504.5h1.2M1110.7 504.5h1.2M1105.5 498.1v1.2M1105.5 509.7v1.2" stroke="#0072B2" stroke-width="1.2" fill="none"/>
<circle cx="1152.5" cy="506.5" r="5.2" fill="none" stroke="#0072B2" stroke-width="1.2"/>
<path d="M1146.1 506.5h1.2M1157.7 506.5h1.2M1152.5 500.1v1.2M1152.5 511.7v1.2" stroke="#0072B2" stroke-width="1.2" fill="none"/>
<circle cx="1158.5" cy="507.5" r="5.2" fill="none" stroke="#0072B2" stroke-width="1.2"/>
<path d="M1152.1 507.5h1.2M1163.7 507.5h1.2M1158.5 501.1v1.2M1158.5 512.7v1.2" stroke="#0072B2" stroke-width="1.2" fill="none"/>
<circle cx="1205.5" cy="508.5" r="5.2" fill="none" stroke="#0072B2" stroke-width="1.2"/>
<path d="M1199.1 508.5h1.2M1210.7 508.5h1.2M1205.5 502.1v1.2M1205.5 513.7v1.2" stroke="#0072B2" stroke-width="1.2" fill="none"/>
<circle cx="1211.5" cy="507.5" r="5.2" fill="none" stroke="#0072B2" stroke-width="1.2"/>
<path d="M1205.1 507.5h1.2M1216.7 507.5h1.2M1211.5 501.1v1.2M1211.5 512.7v1.2" stroke="#0072B2" stroke-width="1.2" fill="none"/>
<circle cx="1258.5" cy="508.5" r="5.2" fill="none" stroke="#0072B2" stroke-width="1.2"/>
<path d="M1252.1 508.5h1.2M1263.7 508.5h1.2M1258.5 502.1v1.2M1258.5 513.7v1.2" stroke="#0072B2" stroke-width="1.2" fill="none"/>
<circle cx="1265.5" cy="508.5" r="5.2" fill="none" stroke="#0072B2" stroke-width="1.2"/>
<path d="M1259.1 508.5h1.2M1270.7 508.5h1.2M1265.5 502.1v1.2M1265.5 513.7v1.2" stroke="#0072B2" stroke-width="1.2" fill="none"/>
<circle cx="1311.5" cy="508.5" r="5.2" fill="none" stroke="#0072B2" stroke-width="1.2"/>
<path d="M1305.1 508.5h1.2M1316.7 508.5h1.2M1311.5 502.1v1.2M1311.5 513.7v1.2" stroke="#0072B2" stroke-width="1.2" fill="none"/>
<circle cx="1318.5" cy="508.5" r="5.2" fill="none" stroke="#0072B2" stroke-width="1.2"/>
<path d="M1312.1 508.5h1.2M1323.7 508.5h1.2M1318.5 502.1v1.2M1318.5 513.7v1.2" stroke="#0072B2" stroke-width="1.2" fill="none"/>
<circle cx="1365.5" cy="508.5" r="5.2" fill="none" stroke="#0072B2" stroke-width="1.2"/>
<path d="M1359.1 508.5h1.2M1370.7 508.5h1.2M1365.5 502.1v1.2M1365.5 513.7v1.2" stroke="#0072B2" stroke-width="1.2" fill="none"/>
<circle cx="96.5" cy="526.5" r="5.2" fill="#E51E10" stroke="#E51E10" stroke-width="1.2"/>
<path d="M90.1 526.5h1.2M101.7 526.5h1.2M96.5 520.1v1.2M96.5 531.7v1.2" stroke="#E51E10" stroke-width="1.2" fill="none"/>
<circle cx="143.5" cy="534.5" r="5.2" fill="#E51E10" stroke="#E51E10" stroke-width="1.2"/>
<path d="M137.1 534.5h1.2M148.7 534.5h1.2M143.5 528.1v1.2M143.5 539.7v1.2" stroke="#E51E10" stroke-width="1.2" fill="none"/>
<circle cx="202.5" cy="535.5" r="5.2" fill="#E51E10" stroke="#E51E10" stroke-width="1.2"/>
<path d="M196.1 535.5h1.2M207.7 535.5h1.2M202.5 529.1v1.2M202.5 540.7v1.2" stroke="#E51E10" stroke-width="1.2" fill="none"/>
<circle cx="249.5" cy="524.5" r="5.2" fill="#E51E10" stroke="#E51E10" stroke-width="1.2"/>
<path d="M243.1 524.5h1.2M254.7 524.5h1.2M249.5 518.1v1.2M249.5 529.7v1.2" stroke="#E51E10" stroke-width="1.2" fill="none"/>
<circle cx="255.5" cy="532.5" r="5.2" fill="#E51E10" stroke="#E51E10" stroke-width="1.2"/>
<path d="M249.1 532.5h1.2M260.7 532.5h1.2M255.5 526.1v1.2M255.5 537.7v1.2" stroke="#E51E10" stroke-width="1.2" fill="none"/>
<circle cx="302.5" cy="535.5" r="5.2" fill="#E51E10" stroke="#E51E10" stroke-width="1.2"/>
<path d="M296.1 535.5h1.2M307.7 535.5h1.2M302.5 529.1v1.2M302.5 540.7v1.2" stroke="#E51E10" stroke-width="1.2" fill="none"/>
<circle cx="308.5" cy="535.5" r="5.2" fill="#E51E10" stroke="#E51E10" stroke-width="1.2"/>
<path d="M302.1 535.5h1.2M313.7 535.5h1.2M308.5 529.1v1.2M308.5 540.7v1.2" stroke="#E51E10" stroke-width="1.2" fill="none"/>
<circle cx="355.5" cy="534.5" r="5.2" fill="#E51E10" stroke="#E51E10" stroke-width="1.2"/>
<path d="M349.1 534.5h1.2M360.7 534.5h1.2M355.5 528.1v1.2M355.5 539.7v1.2" stroke="#E51E10" stroke-width="1.2" fill="none"/>
<circle cx="361.5" cy="534.5" r="5.2" fill="#E51E10" stroke="#E51E10" stroke-width="1.2"/>
<path d="M355.1 534.5h1.2M366.7 534.5h1.2M361.5 528.1v1.2M361.5 539.7v1.2" stroke="#E51E10" stroke-width="1.2" fill="none"/>
<circle cx="408.5" cy="520.5" r="5.2" fill="#E51E10" stroke="#E51E10" stroke-width="1.2"/>
<path d="M402.1 520.5h1.2M413.7 520.5h1.2M408.5 514.1v1.2M408.5 525.7v1.2" stroke="#E51E10" stroke-width="1.2" fill="none"/>
<circle cx="415.5" cy="535.5" r="5.2" fill="#E51E10" stroke="#E51E10" stroke-width="1.2"/>
<path d="M409.1 535.5h1.2M420.7 535.5h1.2M415.5 529.1v1.2M415.5 540.7v1.2" stroke="#E51E10" stroke-width="1.2" fill="none"/>
<circle cx="461.5" cy="534.5" r="5.2" fill="#E51E10" stroke="#E51E10" stroke-width="1.2"/>
<path d="M455.1 534.5h1.2M466.7 534.5h1.2M461.5 528.1v1.2M461.5 539.7v1.2" stroke="#E51E10" stroke-width="1.2" fill="none"/>
<circle cx="468.5" cy="535.5" r="5.2" fill="#E51E10" stroke="#E51E10" stroke-width="1.2"/>
<path d="M462.1 535.5h1.2M473.7 535.5h1.2M468.5 529.1v1.2M468.5 540.7v1.2" stroke="#E51E10" stroke-width="1.2" fill="none"/>
<circle cx="515.5" cy="532.5" r="5.2" fill="#E51E10" stroke="#E51E10" stroke-width="1.2"/>
<path d="M509.1 532.5h1.2M520.7 532.5h1.2M515.5 526.1v1.2M515.5 537.7v1.2" stroke="#E51E10" stroke-width="1.2" fill="none"/>
<circle cx="521.5" cy="533.5" r="5.2" fill="#E51E10" stroke="#E51E10" stroke-width="1.2"/>
<path d="M515.1 533.5h1.2M526.7 533.5h1.2M521.5 527.1v1.2M521.5 538.7v1.2" stroke="#E51E10" stroke-width="1.2" fill="none"/>
<circle cx="568.5" cy="534.5" r="5.2" fill="#E51E10" stroke="#E51E10" stroke-width="1.2"/>
<path d="M562.1 534.5h1.2M573.7 534.5h1.2M568.5 528.1v1.2M568.5 539.7v1.2" stroke="#E51E10" stroke-width="1.2" fill="none"/>
<circle cx="574.5" cy="534.5" r="5.2" fill="#E51E10" stroke="#E51E10" stroke-width="1.2"/>
<path d="M568.1 534.5h1.2M579.7 534.5h1.2M574.5 528.1v1.2M574.5 539.7v1.2" stroke="#E51E10" stroke-width="1.2" fill="none"/>
<circle cx="621.5" cy="534.5" r="5.2" fill="#E51E10" stroke="#E51E10" stroke-width="1.2"/>
<path d="M615.1 534.5h1.2M626.7 534.5h1.2M621.5 528.1v1.2M621.5 539.7v1.2" stroke="#E51E10" stroke-width="1.2" fill="none"/>
<circle cx="627.5" cy="534.5" r="5.2" fill="#E51E10" stroke="#E51E10" stroke-width="1.2"/>
<path d="M621.1 534.5h1.2M632.7 534.5h1.2M627.5 528.1v1.2M627.5 539.7v1.2" stroke="#E51E10" stroke-width="1.2" fill="none"/>
<circle cx="674.5" cy="534.5" r="5.2" fill="#E51E10" stroke="#E51E10" stroke-width="1.2"/>
<path d="M668.1 534.5h1.2M679.7 534.5h1.2M674.5 528.1v1.2M674.5 539.7v1.2" stroke="#E51E10" stroke-width="1.2" fill="none"/>
<circle cx="680.5" cy="533.5" r="5.2" fill="#E51E10" stroke="#E51E10" stroke-width="1.2"/>
<path d="M674.1 533.5h1.2M685.7 533.5h1.2M680.5 527.1v1.2M680.5 538.7v1.2" stroke="#E51E10" stroke-width="1.2" fill="none"/>
<circle cx="727.5" cy="527.5" r="5.2" fill="#E51E10" stroke="#E51E10" stroke-width="1.2"/>
<path d="M721.1 527.5h1.2M732.7 527.5h1.2M727.5 521.1v1.2M727.5 532.7v1.2" stroke="#E51E10" stroke-width="1.2" fill="none"/>
<circle cx="733.5" cy="503.5" r="5.2" fill="#E51E10" stroke="#E51E10" stroke-width="1.2"/>
<path d="M727.1 503.5h1.2M738.7 503.5h1.2M733.5 497.1v1.2M733.5 508.7v1.2" stroke="#E51E10" stroke-width="1.2" fill="none"/>
<circle cx="780.5" cy="530.5" r="5.2" fill="#E51E10" stroke="#E51E10" stroke-width="1.2"/>
<path d="M774.1 530.5h1.2M785.7 530.5h1.2M780.5 524.1v1.2M780.5 535.7v1.2" stroke="#E51E10" stroke-width="1.2" fill="none"/>
<circle cx="787.5" cy="533.5" r="5.2" fill="#E51E10" stroke="#E51E10" stroke-width="1.2"/>
<path d="M781.1 533.5h1.2M792.7 533.5h1.2M787.5 527.1v1.2M787.5 538.7v1.2" stroke="#E51E10" stroke-width="1.2" fill="none"/>
<circle cx="833.5" cy="534.5" r="5.2" fill="#E51E10" stroke="#E51E10" stroke-width="1.2"/>
<path d="M827.1 534.5h1.2M838.7 534.5h1.2M833.5 528.1v1.2M833.5 539.7v1.2" stroke="#E51E10" stroke-width="1.2" fill="none"/>
<circle cx="840.5" cy="534.5" r="5.2" fill="#E51E10" stroke="#E51E10" stroke-width="1.2"/>
<path d="M834.1 534.5h1.2M845.7 534.5h1.2M840.5 528.1v1.2M840.5 539.7v1.2" stroke="#E51E10" stroke-width="1.2" fill="none"/>
<circle cx="886.5" cy="534.5" r="5.2" fill="#E51E10" stroke="#E51E10" stroke-width="1.2"/>
<path d="M880.1 534.5h1.2M891.7 534.5h1.2M886.5 528.1v1.2M886.5 539.7v1.2" stroke="#E51E10" stroke-width="1.2" fill="none"/>
<circle cx="893.5" cy="534.5" r="5.2" fill="#E51E10" stroke="#E51E10" stroke-width="1.2"/>
<path d="M887.1 534.5h1.2M898.7 534.5h1.2M893.5 528.1v1.2M893.5 539.7v1.2" stroke="#E51E10" stroke-width="1.2" fill="none"/>
<circle cx="940.5" cy="534.5" r="5.2" fill="#E51E10" stroke="#E51E10" stroke-width="1.2"/>
<path d="M934.1 534.5h1.2M945.7 534.5h1.2M940.5 528.1v1.2M940.5 539.7v1.2" stroke="#E51E10" stroke-width="1.2" fill="none"/>
<circle cx="946.5" cy="534.5" r="5.2" fill="#E51E10" stroke="#E51E10" stroke-width="1.2"/>
<path d="M940.1 534.5h1.2M951.7 534.5h1.2M946.5 528.1v1.2M946.5 539.7v1.2" stroke="#E51E10" stroke-width="1.2" fill="none"/>
<circle cx="993.5" cy="534.5" r="5.2" fill="#E51E10" stroke="#E51E10" stroke-width="1.2"/>
<path d="M987.1 534.5h1.2M998.7 534.5h1.2M993.5 528.1v1.2M993.5 539.7v1.2" stroke="#E51E10" stroke-width="1.2" fill="none"/>
<circle cx="999.5" cy="534.5" r="5.2" fill="#E51E10" stroke="#E51E10" stroke-width="1.2"/>
<path d="M993.1 534.5h1.2M1004.7 534.5h1.2M999.5 528.1v1.2M999.5 539.7v1.2" stroke="#E51E10" stroke-width="1.2" fill="none"/>
<circle cx="1046.5" cy="534.5" r="5.2" fill="#E51E10" stroke="#E51E10" stroke-width="1.2"/>
<path d="M1040.1 534.5h1.2M1051.7 534.5h1.2M1046.5 528.1v1.2M1046.5 539.7v1.2" stroke="#E51E10" stroke-width="1.2" fill="none"/>
<circle cx="1052.5" cy="509.5" r="5.2" fill="#E51E10" stroke="#E51E10" stroke-width="1.2"/>
<path d="M1046.1 509.5h1.2M1057.7 509.5h1.2M1052.5 503.1v1.2M1052.5 514.7v1.2" stroke="#E51E10" stroke-width="1.2" fill="none"/>
<circle cx="1099.5" cy="524.5" r="5.2" fill="#E51E10" stroke="#E51E10" stroke-width="1.2"/>
<path d="M1093.1 524.5h1.2M1104.7 524.5h1.2M1099.5 518.1v1.2M1099.5 529.7v1.2" stroke="#E51E10" stroke-width="1.2" fill="none"/>
<circle cx="1105.5" cy="532.5" r="5.2" fill="#E51E10" stroke="#E51E10" stroke-width="1.2"/>
<path d="M1099.1 532.5h1.2M1110.7 532.5h1.2M1105.5 526.1v1.2M1105.5 537.7v1.2" stroke="#E51E10" stroke-width="1.2" fill="none"/>
<circle cx="1152.5" cy="533.5" r="5.2" fill="#E51E10" stroke="#E51E10" stroke-width="1.2"/>
<path d="M1146.1 533.5h1.2M1157.7 533.5h1.2M1152.5 527.1v1.2M1152.5 538.7v1.2" stroke="#E51E10" stroke-width="1.2" fill="none"/>
<circle cx="1158.5" cy="534.5" r="5.2" fill="#E51E10" stroke="#E51E10" stroke-width="1.2"/>
<path d="M1152.1 534.5h1.2M1163.7 534.5h1.2M1158.5 528.1v1.2M1158.5 539.7v1.2" stroke="#E51E10" stroke-width="1.2" fill="none"/>
<circle cx="1205.5" cy="534.5" r="5.2" fill="#E51E10" stroke="#E51E10" stroke-width="1.2"/>
<path d="M1199.1 534.5h1.2M1210.7 534.5h1.2M1205.5 528.1v1.2M1205.5 539.7v1.2" stroke="#E51E10" stroke-width="1.2" fill="none"/>
<circle cx="1211.5" cy="534.5" r="5.2" fill="#E51E10" stroke="#E51E10" stroke-width="1.2"/>
<path d="M1205.1 534.5h1.2M1216.7 534.5h1.2M1211.5 528.1v1.2M1211.5 539.7v1.2" stroke="#E51E10" stroke-width="1.2" fill="none"/>
<circle cx="1258.5" cy="534.5" r="5.2" fill="#E51E10" stroke="#E51E10" stroke-width="1.2"/>
<path d="M1252.1 534.5h1.2M1263.7 534.5h1.2M1258.5 528.1v1.2M1258.5 539.7v1.2" stroke="#E51E10" stroke-width="1.2" fill="none"/>
<circle cx="1265.5" cy="528.5" r="5.2" fill="#E51E10" stroke="#E51E10" stroke-width="1.2"/>
<path d="M1259.1 528.5h1.2M1270.7 528.5h1.2M1265.5 522.1v1.2M1265.5 533.7v1.2" stroke="#E51E10" stroke-width="1.2" fill="none"/>
<circle cx="1311.5" cy="534.5" r="5.2" fill="#E51E10" stroke="#E51E10" stroke-width="1.2"/>
<path d="M1305.1 534.5h1.2M1316.7 534.5h1.2M1311.5 528.1v1.2M1311.5 539.7v1.2" stroke="#E51E10" stroke-width="1.2" fill="none"/>
<circle cx="1318.5" cy="534.5" r="5.2" fill="#E51E10" stroke="#E51E10" stroke-width="1.2"/>
<path d="M1312.1 534.5h1.2M1323.7 534.5h1.2M1318.5 528.1v1.2M1318.5 539.7v1.2" stroke="#E51E10" stroke-width="1.2" fill="none"/>
<circle cx="1365.5" cy="518.5" r="5.2" fill="#E51E10" stroke="#E51E10" stroke-width="1.2"/>
<path d="M1359.1 518.5h1.2M1370.7 518.5h1.2M1365.5 512.1v1.2M1365.5 523.7v1.2" stroke="#E51E10" stroke-width="1.2" fill="none"/>
<path d="M94.85 468.5L102.35 456.8L109.85 468.5Z" fill="none" stroke="#000" stroke-width="1.2"/>
<path d="M104.60 468.5L112.10 456.8L119.60 468.5Z" fill="none" stroke="#000" stroke-width="1.2"/>
<path d="M113.60 468.5L121.10 456.8L128.60 468.5Z" fill="none" stroke="#000" stroke-width="1.2"/>
<path d="M122.40 468.5L129.90 456.8L137.40 468.5Z" fill="none" stroke="#000" stroke-width="1.2"/>
<path d="M131.40 468.5L138.90 456.8L146.40 468.5Z" fill="none" stroke="#000" stroke-width="1.2"/>
<path d="M201.10 468.5L208.60 456.8L216.10 468.5Z" fill="none" stroke="#000" stroke-width="1.2"/>
<path d="M210.85 468.5L218.35 456.8L225.85 468.5Z" fill="none" stroke="#000" stroke-width="1.2"/>
<path d="M219.85 468.5L227.35 456.8L234.85 468.5Z" fill="none" stroke="#000" stroke-width="1.2"/>
<path d="M228.65 468.5L236.15 456.8L243.65 468.5Z" fill="none" stroke="#000" stroke-width="1.2"/>
<path d="M237.65 468.5L245.15 456.8L252.65 468.5Z" fill="none" stroke="#000" stroke-width="1.2"/>
<path d="M254.23 468.5L261.73 456.8L269.23 468.5Z" fill="none" stroke="#000" stroke-width="1.2"/>
<path d="M263.98 468.5L271.48 456.8L278.98 468.5Z" fill="none" stroke="#000" stroke-width="1.2"/>
<path d="M272.98 468.5L280.48 456.8L287.98 468.5Z" fill="none" stroke="#000" stroke-width="1.2"/>
<path d="M281.77 468.5L289.27 456.8L296.77 468.5Z" fill="none" stroke="#000" stroke-width="1.2"/>
<path d="M290.77 468.5L298.27 456.8L305.77 468.5Z" fill="none" stroke="#000" stroke-width="1.2"/>
<path d="M307.35 468.5L314.85 456.8L322.35 468.5Z" fill="none" stroke="#000" stroke-width="1.2"/>
<path d="M317.10 468.5L324.60 456.8L332.10 468.5Z" fill="none" stroke="#000" stroke-width="1.2"/>
<path d="M326.10 468.5L333.60 456.8L341.10 468.5Z" fill="none" stroke="#000" stroke-width="1.2"/>
<path d="M334.90 468.5L342.40 456.8L349.90 468.5Z" fill="none" stroke="#000" stroke-width="1.2"/>
<path d="M343.90 468.5L351.40 456.8L358.90 468.5Z" fill="none" stroke="#000" stroke-width="1.2"/>
<path d="M360.48 468.5L367.98 456.8L375.48 468.5Z" fill="none" stroke="#000" stroke-width="1.2"/>
<path d="M370.23 468.5L377.73 456.8L385.23 468.5Z" fill="none" stroke="#000" stroke-width="1.2"/>
<path d="M379.23 468.5L386.73 456.8L394.23 468.5Z" fill="none" stroke="#000" stroke-width="1.2"/>
<path d="M388.02 468.5L395.52 456.8L403.02 468.5Z" fill="none" stroke="#000" stroke-width="1.2"/>
<path d="M397.02 468.5L404.52 456.8L412.02 468.5Z" fill="none" stroke="#000" stroke-width="1.2"/>
<path d="M413.60 468.5L421.10 456.8L428.60 468.5Z" fill="none" stroke="#000" stroke-width="1.2"/>
<path d="M423.35 468.5L430.85 456.8L438.35 468.5Z" fill="none" stroke="#000" stroke-width="1.2"/>
<path d="M432.35 468.5L439.85 456.8L447.35 468.5Z" fill="none" stroke="#000" stroke-width="1.2"/>
<path d="M441.15 468.5L448.65 456.8L456.15 468.5Z" fill="none" stroke="#000" stroke-width="1.2"/>
<path d="M450.15 468.5L457.65 456.8L465.15 468.5Z" fill="none" stroke="#000" stroke-width="1.2"/>
<path d="M466.73 468.5L474.23 456.8L481.73 468.5Z" fill="none" stroke="#000" stroke-width="1.2"/>
<path d="M476.48 468.5L483.98 456.8L491.48 468.5Z" fill="none" stroke="#000" stroke-width="1.2"/>
<path d="M485.48 468.5L492.98 456.8L500.48 468.5Z" fill="none" stroke="#000" stroke-width="1.2"/>
<path d="M494.27 468.5L501.77 456.8L509.27 468.5Z" fill="none" stroke="#000" stroke-width="1.2"/>
<path d="M503.27 468.5L510.77 456.8L518.27 468.5Z" fill="none" stroke="#000" stroke-width="1.2"/>
<path d="M519.85 468.5L527.35 456.8L534.85 468.5Z" fill="none" stroke="#000" stroke-width="1.2"/>
<path d="M529.60 468.5L537.10 456.8L544.60 468.5Z" fill="none" stroke="#000" stroke-width="1.2"/>
<path d="M538.60 468.5L546.10 456.8L553.60 468.5Z" fill="none" stroke="#000" stroke-width="1.2"/>
<path d="M547.40 468.5L554.90 456.8L562.40 468.5Z" fill="none" stroke="#000" stroke-width="1.2"/>
<path d="M556.40 468.5L563.90 456.8L571.40 468.5Z" fill="none" stroke="#000" stroke-width="1.2"/>
<path d="M572.98 468.5L580.48 456.8L587.98 468.5Z" fill="none" stroke="#000" stroke-width="1.2"/>
<path d="M582.73 468.5L590.23 456.8L597.73 468.5Z" fill="none" stroke="#000" stroke-width="1.2"/>
<path d="M591.73 468.5L599.23 456.8L606.73 468.5Z" fill="none" stroke="#000" stroke-width="1.2"/>
<path d="M600.52 468.5L608.02 456.8L615.52 468.5Z" fill="none" stroke="#000" stroke-width="1.2"/>
<path d="M609.52 468.5L617.02 456.8L624.52 468.5Z" fill="none" stroke="#000" stroke-width="1.2"/>
<path d="M626.10 468.5L633.60 456.8L641.10 468.5Z" fill="none" stroke="#000" stroke-width="1.2"/>
<path d="M635.85 468.5L643.35 456.8L650.85 468.5Z" fill="none" stroke="#000" stroke-width="1.2"/>
<path d="M644.85 468.5L652.35 456.8L659.85 468.5Z" fill="none" stroke="#000" stroke-width="1.2"/>
<path d="M653.65 468.5L661.15 456.8L668.65 468.5Z" fill="none" stroke="#000" stroke-width="1.2"/>
<path d="M662.65 468.5L670.15 456.8L677.65 468.5Z" fill="none" stroke="#000" stroke-width="1.2"/>
<path d="M679.23 468.5L686.73 456.8L694.23 468.5Z" fill="none" stroke="#000" stroke-width="1.2"/>
<path d="M688.98 468.5L696.48 456.8L703.98 468.5Z" fill="none" stroke="#000" stroke-width="1.2"/>
<path d="M697.98 468.5L705.48 456.8L712.98 468.5Z" fill="none" stroke="#000" stroke-width="1.2"/>
<path d="M706.77 468.5L714.27 456.8L721.77 468.5Z" fill="none" stroke="#000" stroke-width="1.2"/>
<path d="M715.77 468.5L723.27 456.8L730.77 468.5Z" fill="none" stroke="#000" stroke-width="1.2"/>
<path d="M732.35 468.5L739.85 456.8L747.35 468.5Z" fill="none" stroke="#000" stroke-width="1.2"/>
<path d="M742.10 468.5L749.60 456.8L757.10 468.5Z" fill="none" stroke="#000" stroke-width="1.2"/>
<path d="M751.10 468.5L758.60 456.8L766.10 468.5Z" fill="none" stroke="#000" stroke-width="1.2"/>
<path d="M759.90 468.5L767.40 456.8L774.90 468.5Z" fill="none" stroke="#000" stroke-width="1.2"/>
<path d="M768.90 468.5L776.40 456.8L783.90 468.5Z" fill="none" stroke="#000" stroke-width="1.2"/>
<path d="M785.48 468.5L792.98 456.8L800.48 468.5Z" fill="none" stroke="#000" stroke-width="1.2"/>
<path d="M795.23 468.5L802.73 456.8L810.23 468.5Z" fill="none" stroke="#000" stroke-width="1.2"/>
<path d="M804.23 468.5L811.73 456.8L819.23 468.5Z" fill="none" stroke="#000" stroke-width="1.2"/>
<path d="M813.02 468.5L820.52 456.8L828.02 468.5Z" fill="none" stroke="#000" stroke-width="1.2"/>
<path d="M822.02 468.5L829.52 456.8L837.02 468.5Z" fill="none" stroke="#000" stroke-width="1.2"/>
<path d="M838.60 468.5L846.10 456.8L853.60 468.5Z" fill="none" stroke="#000" stroke-width="1.2"/>
<path d="M848.35 468.5L855.85 456.8L863.35 468.5Z" fill="none" stroke="#000" stroke-width="1.2"/>
<path d="M857.35 468.5L864.85 456.8L872.35 468.5Z" fill="none" stroke="#000" stroke-width="1.2"/>
<path d="M866.15 468.5L873.65 456.8L881.15 468.5Z" fill="none" stroke="#000" stroke-width="1.2"/>
<path d="M875.15 468.5L882.65 456.8L890.15 468.5Z" fill="none" stroke="#000" stroke-width="1.2"/>
<path d="M891.73 468.5L899.23 456.8L906.73 468.5Z" fill="none" stroke="#000" stroke-width="1.2"/>
<path d="M901.48 468.5L908.98 456.8L916.48 468.5Z" fill="none" stroke="#000" stroke-width="1.2"/>
<path d="M910.48 468.5L917.98 456.8L925.48 468.5Z" fill="none" stroke="#000" stroke-width="1.2"/>
<path d="M919.27 468.5L926.77 456.8L934.27 468.5Z" fill="none" stroke="#000" stroke-width="1.2"/>
<path d="M928.27 468.5L935.77 456.8L943.27 468.5Z" fill="none" stroke="#000" stroke-width="1.2"/>
<path d="M944.85 468.5L952.35 456.8L959.85 468.5Z" fill="none" stroke="#000" stroke-width="1.2"/>
<path d="M954.60 468.5L962.10 456.8L969.60 468.5Z" fill="none" stroke="#000" stroke-width="1.2"/>
<path d="M963.60 468.5L971.10 456.8L978.60 468.5Z" fill="none" stroke="#000" stroke-width="1.2"/>
<path d="M972.40 468.5L979.90 456.8L987.40 468.5Z" fill="none" stroke="#000" stroke-width="1.2"/>
<path d="M981.40 468.5L988.90 456.8L996.40 468.5Z" fill="none" stroke="#000" stroke-width="1.2"/>
<path d="M997.98 468.5L1005.48 456.8L1012.98 468.5Z" fill="none" stroke="#000" stroke-width="1.2"/>
<path d="M1007.73 468.5L1015.23 456.8L1022.73 468.5Z" fill="none" stroke="#000" stroke-width="1.2"/>
<path d="M1016.72 468.5L1024.22 456.8L1031.72 468.5Z" fill="none" stroke="#000" stroke-width="1.2"/>
<path d="M1025.53 468.5L1033.03 456.8L1040.53 468.5Z" fill="none" stroke="#000" stroke-width="1.2"/>
<path d="M1034.53 468.5L1042.03 456.8L1049.53 468.5Z" fill="none" stroke="#000" stroke-width="1.2"/>
<path d="M1051.10 468.5L1058.60 456.8L1066.10 468.5Z" fill="none" stroke="#000" stroke-width="1.2"/>
<path d="M1060.85 468.5L1068.35 456.8L1075.85 468.5Z" fill="none" stroke="#000" stroke-width="1.2"/>
<path d="M1069.85 468.5L1077.35 456.8L1084.85 468.5Z" fill="none" stroke="#000" stroke-width="1.2"/>
<path d="M1078.65 468.5L1086.15 456.8L1093.65 468.5Z" fill="none" stroke="#000" stroke-width="1.2"/>
<path d="M1087.65 468.5L1095.15 456.8L1102.65 468.5Z" fill="none" stroke="#000" stroke-width="1.2"/>
<path d="M1104.22 468.5L1111.72 456.8L1119.22 468.5Z" fill="none" stroke="#000" stroke-width="1.2"/>
<path d="M1113.97 468.5L1121.47 456.8L1128.97 468.5Z" fill="none" stroke="#000" stroke-width="1.2"/>
<path d="M1122.97 468.5L1130.47 456.8L1137.97 468.5Z" fill="none" stroke="#000" stroke-width="1.2"/>
<path d="M1131.78 468.5L1139.28 456.8L1146.78 468.5Z" fill="none" stroke="#000" stroke-width="1.2"/>
<path d="M1140.78 468.5L1148.28 456.8L1155.78 468.5Z" fill="none" stroke="#000" stroke-width="1.2"/>
<path d="M1157.35 468.5L1164.85 456.8L1172.35 468.5Z" fill="none" stroke="#000" stroke-width="1.2"/>
<path d="M1167.10 468.5L1174.60 456.8L1182.10 468.5Z" fill="none" stroke="#000" stroke-width="1.2"/>
<path d="M1176.10 468.5L1183.60 456.8L1191.10 468.5Z" fill="none" stroke="#000" stroke-width="1.2"/>
<path d="M1184.90 468.5L1192.40 456.8L1199.90 468.5Z" fill="none" stroke="#000" stroke-width="1.2"/>
<path d="M1193.90 468.5L1201.40 456.8L1208.90 468.5Z" fill="none" stroke="#000" stroke-width="1.2"/>
<path d="M1210.47 468.5L1217.97 456.8L1225.47 468.5Z" fill="none" stroke="#000" stroke-width="1.2"/>
<path d="M1220.22 468.5L1227.72 456.8L1235.22 468.5Z" fill="none" stroke="#000" stroke-width="1.2"/>
<path d="M1229.22 468.5L1236.72 456.8L1244.22 468.5Z" fill="none" stroke="#000" stroke-width="1.2"/>
<path d="M1238.03 468.5L1245.53 456.8L1253.03 468.5Z" fill="none" stroke="#000" stroke-width="1.2"/>
<path d="M1247.03 468.5L1254.53 456.8L1262.03 468.5Z" fill="none" stroke="#000" stroke-width="1.2"/>
<path d="M1263.60 468.5L1271.10 456.8L1278.60 468.5Z" fill="none" stroke="#000" stroke-width="1.2"/>
<path d="M1273.35 468.5L1280.85 456.8L1288.35 468.5Z" fill="none" stroke="#000" stroke-width="1.2"/>
<path d="M1282.35 468.5L1289.85 456.8L1297.35 468.5Z" fill="none" stroke="#000" stroke-width="1.2"/>
<path d="M1291.15 468.5L1298.65 456.8L1306.15 468.5Z" fill="none" stroke="#000" stroke-width="1.2"/>
<path d="M1300.15 468.5L1307.65 456.8L1315.15 468.5Z" fill="none" stroke="#000" stroke-width="1.2"/>
<path d="M1316.72 468.5L1324.22 456.8L1331.72 468.5Z" fill="none" stroke="#000" stroke-width="1.2"/>
<path d="M1326.47 468.5L1333.97 456.8L1341.47 468.5Z" fill="none" stroke="#000" stroke-width="1.2"/>
<path d="M1335.47 468.5L1342.97 456.8L1350.47 468.5Z" fill="none" stroke="#000" stroke-width="1.2"/>
<path d="M1344.28 468.5L1351.78 456.8L1359.28 468.5Z" fill="none" stroke="#000" stroke-width="1.2"/>
<path d="M1353.28 468.5L1360.78 456.8L1368.28 468.5Z" fill="none" stroke="#000" stroke-width="1.2"/>
<path d="M193.00 468.5L200.50 456.8L208.00 468.5Z" fill="none" stroke="#000" stroke-width="1.2"/>
<path d="M1057.00 468.5L1064.50 456.8L1072.00 468.5Z" fill="none" stroke="#000" stroke-width="1.2"/>
<path d="M1071.00 468.5L1078.50 456.8L1086.00 468.5Z" fill="none" stroke="#000" stroke-width="1.2"/>
<path d="M94 468.5H146.8M192.2 468.5H1369.5" stroke="#000" stroke-width="1" fill="none"/>
<path d="M192.70 414.4L200.50 402.3L208.30 414.4Z" fill="#9400D3" stroke="#9400D3" stroke-width="1"/>
<path d="M194.1 371.5h12.8M200.5 365.1v12.8" stroke="#009E73" stroke-width="1" fill="none"/>
<path d="M192.7 328.7L200.5 340.9L208.3 328.7Z" fill="none" stroke="#56B4E9" stroke-width="1"/>
<path d="M192.7 347.6L200.5 359.8L208.3 347.6Z" fill="none" stroke="#E69F00" stroke-width="1"/>
<path d="M86.3 350H152.7L144.8 363H94.3ZM193 350H1377.6L1369.6 363H201.1Z" fill="#E69F00"/>
<path d="M221.4 362h1v1.2h-1zM295.4 362h1v1.2h-1zM504.9 362h1v1.2h-1zM572.9 362h1v1.2h-1zM629.9 362h1v1.2h-1zM923.9 362h1v1.2h-1zM997.9 362h1v1.2h-1zM1073.9 362h1v1.2h-1zM1131.4 362h1v1.2h-1zM1273.9 362h1v1.2h-1zM1352.9 362h1v1.2h-1z" fill="#fff"/>
<rect x="94.5" y="57.5" width="1275.0" height="482.0" fill="none" stroke="#000" stroke-width="1"/>
<path d="M1303 73.5H1350" stroke="#9400D3" stroke-width="1" fill="none"/>
<path d="M1303 92.5H1350" stroke="#009E73" stroke-width="1" fill="none"/>
<path d="M1303 111.5H1350" stroke="#56B4E9" stroke-width="1" fill="none"/>
<rect x="1320.60" y="124.60" width="11.8" height="11.8" fill="none" stroke="#E69F00" stroke-width="1"/>
<rect x="1320.50" y="143.50" width="12" height="12" fill="#F0E442" stroke="#F0E442" stroke-width="1"/>
<circle cx="1326.5" cy="168.5" r="5.2" fill="none" stroke="#0072B2" stroke-width="1.2"/>
<path d="M1320.1 168.5h1.2M1331.7 168.5h1.2M1326.5 162.1v1.2M1326.5 173.7v1.2" stroke="#0072B2" stroke-width="1.2" fill="none"/>
<circle cx="1326.5" cy="187.5" r="5.2" fill="#E51E10" stroke="#E51E10" stroke-width="1.2"/>
<path d="M1320.1 187.5h1.2M1331.7 187.5h1.2M1326.5 181.1v1.2M1326.5 192.7v1.2" stroke="#E51E10" stroke-width="1.2" fill="none"/>
<path d="M1319.00 210.7L1326.50 199.0L1334.00 210.7Z" fill="none" stroke="#000" stroke-width="1.2"/>
<path d="M1318.70 229.7L1326.50 217.6L1334.30 229.7Z" fill="#9400D3" stroke="#9400D3" stroke-width="1"/>
<path d="M1320.1 244.5h12.8M1326.5 238.1v12.8" stroke="#009E73" stroke-width="1" fill="none"/>
<path d="M1318.7 259.3L1326.5 271.5L1334.3 259.3Z" fill="none" stroke="#56B4E9" stroke-width="1"/>
<path d="M1318.7 278.3L1326.5 290.5L1334.3 278.3Z" fill="none" stroke="#E69F00" stroke-width="1"/>
</svg></body></html>
